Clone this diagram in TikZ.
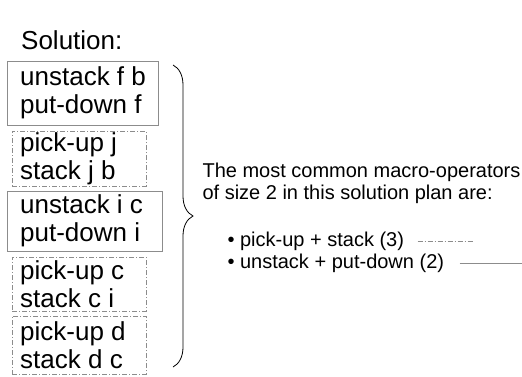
\documentclass[tikz,border=0pt]{standalone}
\usepackage{fontspec}
\setmainfont{Liberation Sans}
\usetikzlibrary{decorations.pathreplacing}
\definecolor{rahmen}{gray}{0.55}

\begin{document}
\begin{tikzpicture}[x=1pt, y=-1pt,
    solidbox/.style={draw=rahmen, line width=0.9pt, anchor=north west, inner sep=0pt, outer sep=0pt},
    dotbox/.style={solidbox, dash pattern=on 5pt off 2pt on 1pt off 2pt},
    plantext/.style={anchor=west, align=left, inner sep=0pt, font=\fontsize{26}{28}\selectfont},
    legende/.style={anchor=west, align=left, font=\fontsize{20}{22}\selectfont}]
    \useasboundingbox (0,0) rectangle (522,376);

    % Ueberschrift
    \node[anchor=west, inner sep=0pt, font=\fontsize{26}{28}\selectfont] (titel) at (21,40) {Solution:};

    % Plan, in Bloecken zu je zwei Schritten
    \node[solidbox, minimum width=151pt, minimum height=64pt] (block1) at (7,61) {};
    \node[plantext] (plan1) at ([xshift=13pt]block1.west) {unstack f b\\put-down f};
    \node[dotbox, minimum width=134pt, minimum height=55pt] (block2) at (12,131) {};
    \node[plantext] (plan2) at ([xshift=8pt]block2.west) {pick-up j\\stack j b};
    \node[solidbox, minimum width=155pt, minimum height=60pt] (block3) at (7,191) {};
    \node[plantext] (plan3) at ([xshift=13pt]block3.west) {unstack i c\\put-down i};
    \node[dotbox, minimum width=134pt, minimum height=54pt] (block4) at (12,257) {};
    \node[plantext] (plan4) at ([xshift=8pt]block4.west) {pick-up c\\stack c i};
    \node[dotbox, minimum width=134pt, minimum height=58pt] (block5) at (12,316) {};
    \node[plantext] (plan5) at ([xshift=8pt]block5.west) {pick-up d\\stack d c};

    % Klammer
    \draw[decorate, decoration={brace, amplitude=20pt}, line width=0.8pt] (173,65) -- (173,367);

    % Erklaerung mit Legende
    \node[legende] (erklaerung) at (199,183)
        {The most common macro-operators\\of size 2 in this solution plan are:};
    \node[legende] (makro1) at (224,241) {\textbullet\ pick-up + stack (3)};
    \node[legende] (makro2) at (224,263) {\textbullet\ unstack + put-down (2)};
    \draw[rahmen, line width=0.9pt, dash pattern=on 5pt off 2pt on 1pt off 2pt]
        ([xshift=10pt]makro1.east) -- ++(55,0);
    \draw[rahmen, line width=0.9pt] ([xshift=12pt]makro2.east) -- ++(64,0);
\end{tikzpicture}
\end{document}
